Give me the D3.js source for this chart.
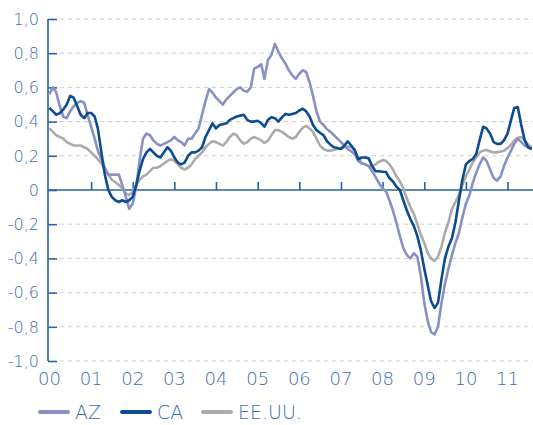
<!DOCTYPE html>
<html><head><meta charset="utf-8">
<script src="https://cdn.jsdelivr.net/npm/d3@7"></script>
<style>
html,body{margin:0;padding:0;background:#fff;}
svg{display:block;}
text{font-family:"DejaVu Sans",sans-serif;font-weight:200;fill:#3a6daf;}
</style></head>
<body>
<svg id="c" width="533" height="425"></svg>
<script>
// ---- data (monthly, Jan 2000 – Aug 2011) ----
const startMonth = new Date(2000, 0, 1);
const endMonth = new Date(2011, 7, 1);
const seriesNames = ["AZ", "CA", "EE.UU."];
const yTickValues = [-1, -0.8, -0.6, -0.4, -0.2, 0, 0.2, 0.4, 0.6, 0.8, 1];
const xTickYears = [2000,2001,2002,2003,2004,2005,2006,2007,2008,2009,2010,2011];
const xTickLabels = ["00","01","02","03","04","05","06","07","08","09","10","11"];

const azValues = [
 0.56,0.60,0.57,0.49,0.43,0.42,0.46,0.49,0.51,0.52,
 0.51,0.44,0.37,0.30,0.23,0.18,0.13,0.09,0.09,0.09,
 0.09,0.03,-0.04,-0.11,-0.08,0.02,0.17,0.30,0.33,0.32,
 0.29,0.27,0.26,0.27,0.28,0.29,0.31,0.29,0.28,0.26,
 0.30,0.30,0.33,0.36,0.44,0.52,0.59,0.57,0.54,0.52,
 0.50,0.53,0.55,0.57,0.59,0.60,0.58,0.575,0.60,0.71,
 0.72,0.735,0.65,0.76,0.79,0.855,0.81,0.77,0.74,0.70,
 0.67,0.65,0.68,0.70,0.69,0.63,0.55,0.46,0.40,0.38,
 0.355,0.34,0.32,0.30,0.28,0.26,0.24,0.225,0.21,0.17,
 0.155,0.15,0.14,0.11,0.075,0.04,0.01,-0.01,-0.06,-0.12,
 -0.19,-0.27,-0.34,-0.38,-0.40,-0.37,-0.39,-0.50,-0.66,-0.77,
 -0.83,-0.845,-0.80,-0.66,-0.55,-0.46,-0.38,-0.31,-0.25,-0.16,
 -0.08,-0.03,0.04,0.10,0.15,0.19,0.17,0.12,0.07,0.055,
 0.08,0.14,0.19,0.23,0.27,0.30,0.28,0.26,0.25,0.24
];
const caValues = [
 0.48,0.46,0.44,0.45,0.47,0.50,0.55,0.54,0.49,0.44,
 0.42,0.45,0.45,0.43,0.36,0.22,0.09,0.00,-0.04,-0.06,
 -0.07,-0.06,-0.07,-0.06,-0.04,0.03,0.11,0.18,0.22,0.24,
 0.22,0.20,0.19,0.22,0.25,0.23,0.19,0.16,0.15,0.16,
 0.20,0.22,0.22,0.23,0.25,0.31,0.35,0.39,0.36,0.38,
 0.385,0.39,0.41,0.42,0.43,0.435,0.44,0.41,0.40,0.40,
 0.405,0.39,0.37,0.41,0.425,0.42,0.40,0.425,0.445,0.44,
 0.445,0.45,0.465,0.475,0.46,0.43,0.38,0.35,0.335,0.32,
 0.285,0.265,0.25,0.245,0.24,0.26,0.285,0.26,0.235,0.18,
 0.19,0.19,0.185,0.14,0.11,0.11,0.107,0.105,0.07,0.05,
 0.02,0.00,-0.06,-0.12,-0.17,-0.21,-0.27,-0.35,-0.46,-0.56,
 -0.65,-0.69,-0.66,-0.52,-0.40,-0.33,-0.28,-0.19,-0.06,0.06,
 0.15,0.17,0.18,0.21,0.29,0.37,0.36,0.33,0.28,0.27,
 0.27,0.29,0.33,0.41,0.48,0.485,0.38,0.29,0.25,0.24
];
const usValues = [
 0.36,0.34,0.32,0.31,0.30,0.28,0.27,0.26,0.26,0.26,
 0.25,0.24,0.22,0.20,0.18,0.155,0.12,0.09,0.06,0.045,
 0.03,0.01,-0.02,-0.03,-0.01,0.03,0.06,0.08,0.09,0.11,
 0.13,0.13,0.14,0.155,0.17,0.18,0.17,0.15,0.13,0.12,
 0.13,0.15,0.18,0.20,0.22,0.25,0.27,0.285,0.28,0.27,
 0.26,0.28,0.31,0.33,0.32,0.29,0.27,0.28,0.30,0.31,
 0.30,0.29,0.275,0.29,0.32,0.35,0.35,0.34,0.325,0.31,
 0.30,0.31,0.34,0.365,0.375,0.36,0.34,0.30,0.26,0.24,
 0.23,0.23,0.235,0.24,0.245,0.25,0.255,0.25,0.23,0.19,
 0.16,0.15,0.14,0.14,0.15,0.165,0.175,0.17,0.15,0.12,
 0.08,0.05,0.01,-0.05,-0.10,-0.14,-0.20,-0.26,-0.31,-0.37,
 -0.40,-0.415,-0.39,-0.33,-0.25,-0.19,-0.11,-0.07,-0.03,0.03,
 0.08,0.12,0.16,0.19,0.22,0.23,0.235,0.225,0.22,0.22,
 0.225,0.23,0.245,0.265,0.29,0.305,0.31,0.29,0.265,0.25
];
const seriesColors = ["#8a90c4", "#0d4c90", "#ababab"];

// ---- chart ----
const months = d3.timeMonth.range(startMonth, d3.timeMonth.offset(endMonth, 1));
const svg = d3.select("#c");
const axisColor = "#2a62a6";
const x = d3.scaleTime().domain([startMonth, endMonth]).range([49.4, 531.7]);
const y = d3.scaleLinear().domain([-1, 1]).range([361, 19]);
const axisX = 48;

// gridlines
svg.append("g").selectAll("line").data(yTickValues.filter(v => v !== 0)).join("line")
  .attr("x1", 60).attr("x2", 533).attr("y1", d => y(d)).attr("y2", d => y(d))
  .attr("stroke", "#cfcfcf").attr("stroke-width", 1).attr("stroke-dasharray", "4,4");

// y axis
const yAxis = d3.axisRight(y).tickValues(yTickValues).tickSize(9).tickFormat("");
const gy = svg.append("g").attr("transform", `translate(${axisX},0)`).call(yAxis);
gy.select(".domain").attr("stroke", axisColor).attr("stroke-width", 1.6).attr("d", `M0,${y(1)}V${y(-1)}`);
gy.selectAll(".tick line").attr("stroke", axisColor).attr("stroke-width", 1.6);
svg.append("g").selectAll("text").data(yTickValues).join("text")
  .attr("x", 39).attr("y", d => y(d)).attr("dy", "0.36em").attr("text-anchor", "end")
  .attr("font-size", 16)
  .text(d => d3.format(".1f")(d).replace(".", ",").replace("−", "-").replace("0,0","0").replace("-0","-0"));

// x axis
const yearDates = xTickYears.map(yr => new Date(yr, 0, 1));
const xAxis = d3.axisTop(x).tickValues(yearDates.slice(1)).tickSize(8).tickFormat("");
const gx = svg.append("g").attr("transform", `translate(0,${y(0)})`).call(xAxis);
gx.select(".domain").attr("stroke", axisColor).attr("stroke-width", 1.6).attr("d", `M${axisX},0H533`);
gx.selectAll(".tick line").attr("stroke", axisColor).attr("stroke-width", 1.6);
svg.append("g").selectAll("text").data(yearDates).join("text")
  .attr("x", d => x(d)).attr("y", 385).attr("text-anchor", "middle")
  .attr("font-size", 18)
  .text((d, i) => xTickLabels[i]);

// lines
const line = d3.line().x((d, i) => x(months[i])).y(d => y(d)).curve(d3.curveLinear);
const allSeries = [azValues, caValues, usValues];
const drawOrder = [2, 0, 1];
drawOrder.forEach(k => {
  svg.append("path").datum(allSeries[k]).attr("d", line)
    .attr("fill", "none").attr("stroke", seriesColors[k]).attr("stroke-width", 2.6)
    .attr("stroke-linejoin", "round");
});

// legend
const legendX = [40, 122, 203];
const lg = svg.append("g");
seriesNames.forEach((n, i) => {
  lg.append("line").attr("x1", legendX[i]).attr("x2", legendX[i] + 28)
    .attr("y1", 412).attr("y2", 412).attr("stroke", seriesColors[i]).attr("stroke-width", 4)
    .attr("stroke-linecap", "round");
  lg.append("text").attr("x", legendX[i] + 35).attr("y", 419).attr("font-size", 19).text(n);
});
</script>
</body></html>
